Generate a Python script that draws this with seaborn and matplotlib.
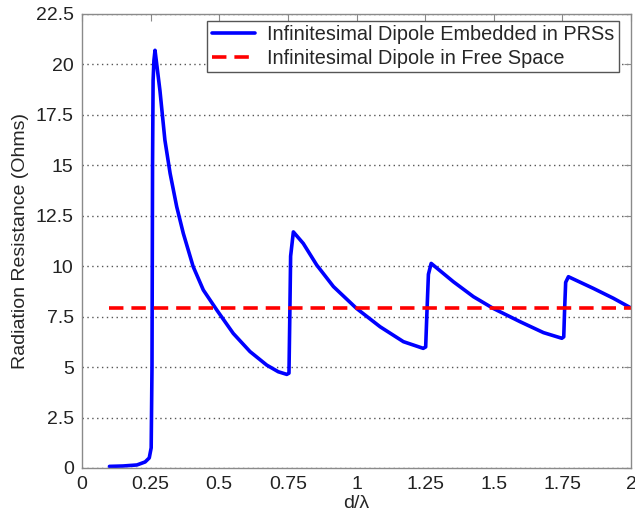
import matplotlib
matplotlib.use("Agg")
import matplotlib.pyplot as plt
import seaborn as sns
import pandas as pd

# Data
d_lambda = [0.10, 0.15, 0.20, 0.23, 0.245, 0.252, 0.255, 0.257, 0.259, 0.262, 0.266,
            0.284, 0.302, 0.321, 0.345, 0.369, 0.405, 0.442, 0.491, 0.551, 0.612, 0.673,
            0.715, 0.746, 0.754, 0.757, 0.760, 0.770,
            0.806, 0.855, 0.916, 1.000, 1.086, 1.171, 1.243, 1.252, 1.256, 1.262, 1.272,
            1.353, 1.426, 1.498, 1.596, 1.681, 1.748, 1.755, 1.758, 1.762, 1.772,
            1.863, 1.936, 1.996]
r_prs = [0.08, 0.10, 0.15, 0.30, 0.50, 1.0, 5.0, 15.0, 19.2, 20.2, 20.7,
         18.7, 16.25, 14.6, 12.95, 11.63, 9.98, 8.82, 7.83, 6.67, 5.77, 5.10,
         4.77, 4.64, 4.70, 7.5, 10.5, 11.7,
         11.13, 10.06, 8.99, 7.91, 7.0, 6.26, 5.93, 6.0, 7.5, 9.6, 10.14,
         9.23, 8.49, 7.91, 7.25, 6.71, 6.43, 6.5, 7.8, 9.2, 9.48,
         8.90, 8.41, 7.96]
x_free = [0.10, 2.0]
r_free = [7.91, 7.91]

label_prs = "Infinitesimal Dipole Embedded in PRSs"
label_free = "Infinitesimal Dipole in Free Space"

x_ticks = [0, 0.25, 0.5, 0.75, 1, 1.25, 1.5, 1.75, 2]
x_tick_labels = ["0", "0.25", "0.5", "0.75", "1", "1.25", "1.5", "1.75", "2"]
y_ticks = [0, 2.5, 5, 7.5, 10, 12.5, 15, 17.5, 20, 22.5]
y_tick_labels = ["0", "2.5", "5", "7.5", "10", "12.5", "15", "17.5", "20", "22.5"]

sns.set_style("white")
plt.rcParams["font.family"] = ["Liberation Sans", "DejaVu Sans"]
plt.rcParams["font.size"] = 14

df1 = pd.DataFrame({"x": d_lambda, "y": r_prs})
df2 = pd.DataFrame({"x": x_free, "y": r_free})

fig = plt.figure(figsize=(6.35, 5.19), dpi=100)
ax = fig.add_axes([82/635, 51/519, 549/635, 454/519])

sns.lineplot(data=df1, x="x", y="y", ax=ax, color="#0000ff", linewidth=2.6,
             label=label_prs, sort=False, estimator=None)
sns.lineplot(data=df2, x="x", y="y", ax=ax, color="#ff0000", linewidth=2.6,
             linestyle=(0, (4, 2.2)), label=label_free, sort=False, estimator=None)

ax.set_xlim(0, 2)
ax.set_ylim(0, 22.5)
ax.set_xticks(x_ticks)
ax.set_xticklabels(x_tick_labels, fontsize=14)
ax.set_yticks(y_ticks)
ax.set_yticklabels(y_tick_labels, fontsize=14)
ax.set_xlabel("d/\u03bb", fontsize=14, labelpad=1)
ax.set_ylabel("Radiation Resistance (Ohms)", fontsize=14, labelpad=5)

ax.yaxis.grid(True, linestyle=(0, (1, 2.5)), color="#555555", linewidth=1.0)
ax.xaxis.grid(False)
ax.set_axisbelow(True)

for s in ax.spines.values():
    s.set_visible(True)
    s.set_color("#8a8a8a")
    s.set_linewidth(1.0)
ax.tick_params(direction="in", length=5, color="#8a8a8a", top=True, right=True,
               labelcolor="#222222", pad=6)

leg = ax.legend(loc="upper right", bbox_to_anchor=(0.978, 0.985), fontsize=14.3,
                frameon=True, fancybox=False, edgecolor="#555555", framealpha=1,
                handlelength=2.2, borderpad=0.22, labelspacing=0.22, handletextpad=0.6,
                borderaxespad=0.0)
leg.get_frame().set_linewidth(1.0)

fig.savefig("out.png", dpi=100)
